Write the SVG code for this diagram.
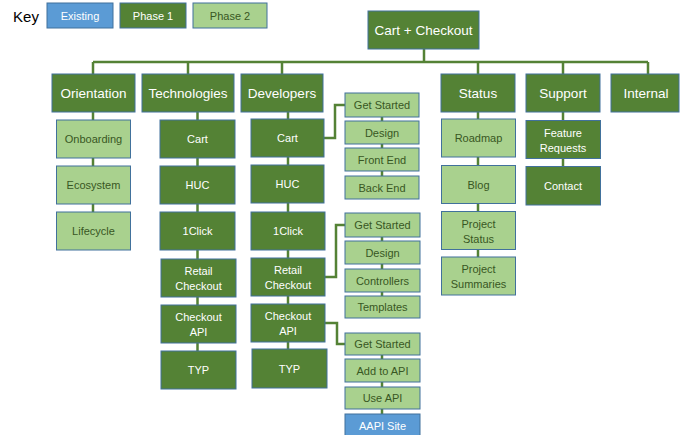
<svg xmlns="http://www.w3.org/2000/svg" width="681" height="435" viewBox="0 0 681 435">
<style>
.d{fill:#548235;stroke:#41719C;stroke-width:1}
.l{fill:#A9D18E;stroke:#41719C;stroke-width:1}
.b{fill:#5B9BD5;stroke:#41719C;stroke-width:1}
text{font-family:"Liberation Sans",Arial,sans-serif;text-anchor:middle}
.tw{fill:#FFFFFF}
.tg{fill:#385723}
.f1{font-size:13.5px}
.f2{font-size:11px}
.f3{font-size:11px}
.c{fill:none;stroke:#548235;stroke-width:2.5}
</style>
<rect width="681" height="435" fill="#FFFFFF"/>
<g id="key">
<text x="26" y="22" style="font-size:15px;fill:#000">Key</text>
<rect class="b" x="47" y="3" width="66" height="25"/>
<text class="tw f2" x="80" y="19.5">Existing</text>
<rect class="d" x="120" y="3" width="66" height="25"/>
<text class="tw f2" x="153" y="19.5">Phase 1</text>
<rect class="l" x="193" y="3" width="74" height="25"/>
<text class="tg f2" x="230" y="19.5">Phase 2</text>
</g>
<g id="connectors">
<path class="c" d="M424 49V62M93 62H648M93 62V74M188 62V74M282 62V74M478 62V74M563 62V74M648 62V74"/>
<path class="c" d="M93 112V212"/>
<path class="c" d="M197.5 112V351"/>
<path class="c" d="M288 112V349"/>
<path class="c" d="M478 112V257"/>
<path class="c" d="M563 112V167"/>
<path class="c" d="M324 138H335V105H345M382 105V176"/>
<path class="c" d="M325 277H336V225H345M382 225V296"/>
<path class="c" d="M325 323H337V344H345M382 344V414"/>
</g>
<g id="root"><rect class="d" x="368" y="11" width="111" height="38"/><text class="tw f1" x="423.5" y="34.5">Cart + Checkout</text></g>
<g id="orientation"><rect class="d" x="52" y="74" width="83" height="38"/><text class="tw f1" x="93.5" y="97.5">Orientation</text></g>
<g id="technologies"><rect class="d" x="142" y="74" width="92" height="38"/><text class="tw f1" x="188" y="97.5">Technologies</text></g>
<g id="developers"><rect class="d" x="241" y="74" width="82" height="38"/><text class="tw f1" x="282" y="97.5">Developers</text></g>
<g id="status"><rect class="d" x="441" y="74" width="74" height="38"/><text class="tw f1" x="478" y="97.5">Status</text></g>
<g id="support"><rect class="d" x="526" y="74" width="74" height="38"/><text class="tw f1" x="563" y="97.5">Support</text></g>
<g id="internal"><rect class="d" x="611" y="74" width="68" height="38"/><text class="tw f1" x="646" y="97.5">Internal</text></g>

<g id="onboarding"><rect class="l" x="56.5" y="120" width="74" height="38"/><text class="tg f2" x="93.5" y="143">Onboarding</text></g>
<g id="ecosystem"><rect class="l" x="56.5" y="166" width="74" height="38"/><text class="tg f2" x="93.5" y="189">Ecosystem</text></g>
<g id="lifecycle"><rect class="l" x="56.5" y="212" width="74" height="38"/><text class="tg f2" x="93.5" y="235">Lifecycle</text></g>

<g id="tech-cart"><rect class="d" x="160" y="120" width="75" height="38"/><text class="tw f2" x="197.5" y="143">Cart</text></g>
<g id="tech-huc"><rect class="d" x="160" y="166" width="75" height="38"/><text class="tw f2" x="197.5" y="189">HUC</text></g>
<g id="tech-1click"><rect class="d" x="160" y="212" width="75" height="38"/><text class="tw f2" x="197.5" y="235">1Click</text></g>
<g id="tech-retail"><rect class="d" x="161" y="259" width="75" height="38"/><text class="tw f2" x="198.5" y="275">Retail</text><text class="tw f2" x="198.5" y="290">Checkout</text></g>
<g id="tech-api"><rect class="d" x="161" y="305" width="75" height="38"/><text class="tw f2" x="198.5" y="321">Checkout</text><text class="tw f2" x="198.5" y="336">API</text></g>
<g id="tech-typ"><rect class="d" x="161" y="351" width="75" height="38"/><text class="tw f2" x="198.5" y="374">TYP</text></g>

<g id="dev-cart"><rect class="d" x="251" y="119" width="73" height="38"/><text class="tw f2" x="287.5" y="142">Cart</text></g>
<g id="dev-huc"><rect class="d" x="251" y="165" width="73" height="38"/><text class="tw f2" x="287.5" y="188">HUC</text></g>
<g id="dev-1click"><rect class="d" x="251" y="212" width="74" height="38"/><text class="tw f2" x="288" y="235">1Click</text></g>
<g id="dev-retail"><rect class="d" x="251" y="258" width="74" height="38"/><text class="tw f2" x="288" y="274">Retail</text><text class="tw f2" x="288" y="289">Checkout</text></g>
<g id="dev-api"><rect class="d" x="251" y="304" width="74" height="38"/><text class="tw f2" x="288" y="320">Checkout</text><text class="tw f2" x="288" y="335">API</text></g>
<g id="dev-typ"><rect class="d" x="252" y="349" width="75" height="39"/><text class="tw f2" x="289.5" y="372.5">TYP</text></g>

<g id="cart-get-started"><rect class="l" x="345" y="93" width="74" height="24"/><text class="tg f3" x="382" y="109">Get Started</text></g>
<g id="cart-design"><rect class="l" x="345" y="121" width="74" height="23"/><text class="tg f3" x="382" y="136.5">Design</text></g>
<g id="cart-front-end"><rect class="l" x="345" y="148" width="74" height="23"/><text class="tg f3" x="382" y="163.5">Front End</text></g>
<g id="cart-back-end"><rect class="l" x="345" y="176" width="74" height="23"/><text class="tg f3" x="382" y="191.5">Back End</text></g>

<g id="retail-get-started"><rect class="l" x="345" y="213" width="75" height="24"/><text class="tg f3" x="382.5" y="229">Get Started</text></g>
<g id="retail-design"><rect class="l" x="345" y="241" width="75" height="23"/><text class="tg f3" x="382.5" y="256.5">Design</text></g>
<g id="retail-controllers"><rect class="l" x="345" y="269" width="75" height="23"/><text class="tg f3" x="382.5" y="284.5">Controllers</text></g>
<g id="retail-templates"><rect class="l" x="345" y="296" width="75" height="22"/><text class="tg f3" x="382.5" y="311">Templates</text></g>

<g id="api-get-started"><rect class="l" x="345" y="333" width="75" height="22"/><text class="tg f3" x="382.5" y="348">Get Started</text></g>
<g id="api-add"><rect class="l" x="345" y="359" width="75" height="23"/><text class="tg f3" x="382.5" y="374.5">Add to API</text></g>
<g id="api-use"><rect class="l" x="345" y="387" width="75" height="22"/><text class="tg f3" x="382.5" y="402">Use API</text></g>
<g id="aapi-site"><rect class="b" x="345" y="414" width="75" height="24"/><text class="tw f3" x="382.5" y="429.5">AAPI Site</text></g>

<g id="roadmap"><rect class="l" x="441.5" y="119" width="74" height="38"/><text class="tg f2" x="478.5" y="142">Roadmap</text></g>
<g id="blog"><rect class="l" x="441.5" y="165.5" width="74" height="38"/><text class="tg f2" x="478.5" y="188.5">Blog</text></g>
<g id="project-status"><rect class="l" x="441.5" y="211.5" width="74" height="38"/><text class="tg f2" x="478.5" y="227.5">Project</text><text class="tg f2" x="478.5" y="242.5">Status</text></g>
<g id="project-summaries"><rect class="l" x="441.5" y="257" width="74" height="38"/><text class="tg f2" x="478.5" y="273">Project</text><text class="tg f2" x="478.5" y="288">Summaries</text></g>

<g id="feature-requests"><rect class="d" x="526" y="120.5" width="74.5" height="38"/><text class="tw f2" x="563" y="136.5">Feature</text><text class="tw f2" x="563" y="151.5">Requests</text></g>
<g id="contact"><rect class="d" x="526" y="166.5" width="74.5" height="38.5"/><text class="tw f2" x="563" y="189.5">Contact</text></g>
</svg>
